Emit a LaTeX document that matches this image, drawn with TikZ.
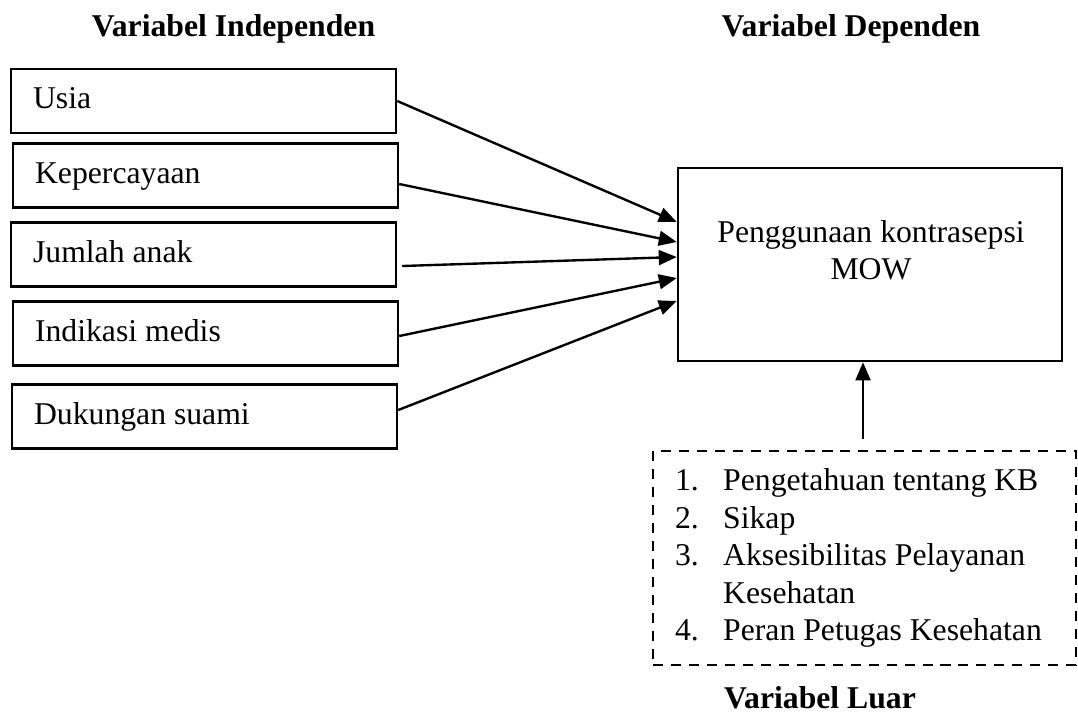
\documentclass[tikz,border=0pt]{standalone}
\usepackage{fontspec}
\setmainfont{Liberation Serif}
\usetikzlibrary{arrows.meta,calc}

\newcommand{\butir}[1]{\makebox[0.64cm][l]{#1}}

\tikzset{
  varbox/.style={draw, line width=1pt, minimum width=5.12cm, minimum height=0.85cm,
    text width=4.535cm, inner xsep=0.29cm, align=flush left, text height=6pt, text depth=0pt},
  depbox/.style={draw, line width=1pt, minimum width=5.107cm, minimum height=2.567cm},
  luarbox/.style={draw, line width=1pt, dash pattern=on 3.8pt off 3pt,
    minimum width=5.626cm, minimum height=2.846cm, text width=5.04cm,
    inner xsep=0.29cm, align=flush left},
  panah/.style={line width=0.9pt, -{Triangle[length=6.8pt,width=5.6pt]}},
  judul/.style={font=\fontsize{12}{14.2}\selectfont\bfseries, anchor=base},
}

\begin{document}
\begin{tikzpicture}[x=0.0133cm, y=-0.0133cm, font=\fontsize{12}{14.2}\selectfont]
\useasboundingbox (0,0) rectangle (1078,722);

% Headings
\node[judul] (indep) at (233.5,36) {Variabel Independen};
\node[judul] (dependen) at (851,36) {Variabel Dependen};
\node[judul] (luarjudul) at (820,708) {Variabel Luar};

% Independent variables
\node[varbox] (usia) at (203.5,101) {Usia};
\node[varbox] (kepercayaan) at (205.5,175.5) {Kepercayaan};
\node[varbox] (jumlah) at (203.5,254.5) {Jumlah anak};
\node[varbox] (indikasi) at (205.5,333.5) {Indikasi medis};
\node[varbox] (dukungan) at (204.5,416.5) {Dukungan suami};

% Dependent variable
\node[depbox] (dep) at (870,264.5) {};
\node[align=center] (depteks) at (871,250) {Penggunaan kontrasepsi\\MOW};

% Outside variables
\node[luarbox] (luar) at (864.5,558) {%
  \butir{1.}Pengetahuan tentang KB\\
  \butir{2.}Sikap\\
  \butir{3.}Aksesibilitas Pelayanan\\
  \butir{}Kesehatan\\
  \butir{4.}Peran Petugas Kesehatan};

% Arrows
\draw[panah] (usia.east) -- ($(dep.west)+(0,-42.5)$);
\draw[panah] ($(kepercayaan.east)+(0,8.5)$) -- ($(dep.west)+(0,-22.5)$);
\draw[panah] ($(jumlah.east)+(5,11.5)$) -- ($(dep.west)+(0,-7.5)$);
\draw[panah] ($(indikasi.east)+(0,2.5)$) -- ($(dep.west)+(0,13.5)$);
\draw[panah] ($(dukungan.east)+(0,-6.5)$) -- ($(dep.west)+(0,36.5)$);
\draw[panah] ($(luar.north)+(-1.5,-11)$) -- ($(dep.south)+(-7,0)$);
\end{tikzpicture}
\end{document}
